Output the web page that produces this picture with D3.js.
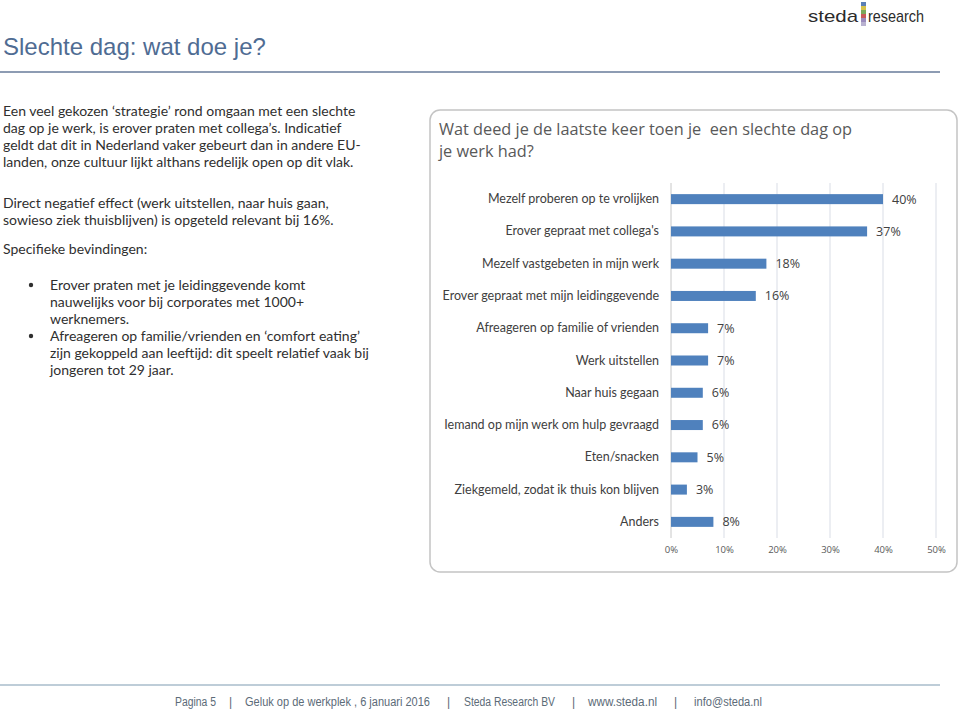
<!DOCTYPE html>
<html><head><meta charset="utf-8">
<script src="https://cdn.jsdelivr.net/npm/d3@7"></script>
<style>body{margin:0;background:#fff}svg{display:block}</style>
</head><body>
<svg id="c" width="960" height="710"></svg>
<script>
const categories = ["Mezelf proberen op te vrolijken","Erover gepraat met collega's","Mezelf vastgebeten in mijn werk","Erover gepraat met mijn leidinggevende","Afreageren op familie of vrienden","Werk uitstellen","Naar huis gegaan","Iemand op mijn werk om hulp gevraagd","Eten/snacken","Ziekgemeld, zodat ik thuis kon blijven","Anders"];
const values = [40,37,18,16,7,7,6,6,5,3,8];
const tickValues = [0,10,20,30,40,50];
const pageTitle = "Slechte dag: wat doe je?";
const chartTitle = ["Wat deed je de laatste keer toen je  een slechte dag op","je werk had?"];
const para1 = ["Een veel gekozen ‘strategie’ rond omgaan met een slechte","dag op je werk, is erover praten met collega’s. Indicatief","geldt dat dit in Nederland vaker gebeurt dan in andere EU-","landen, onze cultuur lijkt althans redelijk open op dit vlak."];
const para2 = ["Direct negatief effect (werk uitstellen, naar huis gaan,","sowieso ziek thuisblijven) is opgeteld relevant bij 16%."];
const para3 = "Specifieke bevindingen:";
const bullets = [["Erover praten met je leidinggevende komt","nauwelijks voor bij corporates met 1000+","werknemers."],["Afreageren op familie/vrienden en ‘comfort eating’","zijn gekoppeld aan leeftijd: dit speelt relatief vaak bij","jongeren tot 29 jaar."]];
const footer = ["Pagina 5","|","Geluk op de werkplek , 6 januari 2016","|","Steda Research BV","|","www.steda.nl","|","info@steda.nl"];
const footerX = [175,229,245,447,464,572,588,674,694];
const footerW = [41,0,185,0,91,0,69,0,68];

const svg = d3.select("#c");
const bodyFont = "Lato, 'Open Sans', sans-serif";

// page title
svg.append("text").attr("x",3).attr("y",55).text(pageTitle)
  .attr("font-family","'Liberation Sans', Arial, sans-serif").attr("font-size",24).attr("fill","#4f6c93");
svg.append("line").attr("x1",0).attr("x2",940).attr("y1",72).attr("y2",72).attr("stroke","#8d9cb3").attr("stroke-width",2);

// logo
const logo = svg.append("g").attr("font-family","'Liberation Sans', Arial, sans-serif").attr("font-size",17).attr("fill","#2b2b2b");
logo.append("text").attr("x",808).attr("y",22).text("steda").attr("textLength",50).attr("lengthAdjust","spacingAndGlyphs");
logo.append("text").attr("x",868).attr("y",22).text("research").attr("textLength",56).attr("lengthAdjust","spacingAndGlyphs");
const logoColors = ["#5b7fb5","#d6c24a","#7aa85a","#c65a5a","#9b8bbd","#b9b2d0"];
logoColors.forEach((c,i)=>logo.append("rect").attr("x",861).attr("y",2+i*4).attr("width",5).attr("height",4).attr("fill",c));

// left text
const lt = svg.append("g").attr("font-family",bodyFont).attr("font-size",14).attr("fill","#2f2f2f");
para1.forEach((t,i)=>lt.append("text").attr("x",3).attr("y",116+i*17).text(t));
para2.forEach((t,i)=>lt.append("text").attr("x",3).attr("y",208+i*17).text(t));
lt.append("text").attr("x",3).attr("y",254).text(para3);
let by = 290;
bullets.forEach(b=>{
  lt.append("circle").attr("cx",31).attr("cy",by-5).attr("r",2.2).attr("fill","#2f2f2f");
  b.forEach((t,i)=>lt.append("text").attr("x",50).attr("y",by+i*17).text(t));
  by += b.length*17;
});

// chart panel
svg.append("rect").attr("x",430).attr("y",110).attr("width",527).attr("height",462).attr("rx",10)
  .attr("fill","#fff").attr("stroke","#c4c4c4").attr("stroke-width",1.5);
chartTitle.forEach((t,i)=>svg.append("text").attr("x",439).attr("y",135+i*22).text(t)
  .attr("font-family","'Open Sans', sans-serif").attr("font-size",16.3).attr("fill","#595959").attr("xml:space","preserve").style("white-space","pre"));

const x = d3.scaleLinear().domain([0,50]).range([671,936]);
const y = d3.scaleBand().domain(categories).range([183,538]).paddingInner(0.69).paddingOuter(0.345);

const g = svg.append("g");
g.selectAll(".grid").data(tickValues.slice(1)).join("line")
  .attr("x1",d=>x(d)).attr("x2",d=>x(d)).attr("y1",183).attr("y2",538).attr("stroke","#d9dde6").attr("stroke-width",1);
g.append("line").attr("x1",x(0)).attr("x2",x(0)).attr("y1",183).attr("y2",538).attr("stroke","#c8c8c8");

const xAxis = d3.axisBottom(x).tickValues(tickValues).tickFormat(d=>d+"%").tickSize(0).tickPadding(0);
const ax = svg.append("g").attr("transform","translate(0,553)").call(xAxis);
ax.select(".domain").remove();
ax.selectAll("text").attr("font-family","'Open Sans', sans-serif").attr("font-size",9.5).attr("fill","#595959").attr("dy","0");

g.selectAll(".bar").data(values).join("rect")
  .attr("x",x(0)).attr("y",(d,i)=>y(categories[i])).attr("width",d=>x(d)-x(0)).attr("height",y.bandwidth()).attr("fill","#4f81bd");
g.selectAll(".val").data(values).join("text")
  .attr("x",d=>x(d)+9).attr("y",(d,i)=>y(categories[i])+y.bandwidth()/2).attr("dy","0.35em").text(d=>d+"%")
  .attr("font-family","'Open Sans', sans-serif").attr("font-size",12.5).attr("fill","#404040");
const yAxis = d3.axisLeft(y).tickSize(0).tickPadding(12);
const ay = svg.append("g").attr("transform",`translate(${x(0)},0)`).call(yAxis);
ay.select(".domain").remove();
ay.selectAll("text").attr("font-family",bodyFont).attr("font-size",12.5).attr("fill","#404040");

// footer
svg.append("line").attr("x1",0).attr("x2",940).attr("y1",685).attr("y2",685).attr("stroke","#a9bccb").attr("stroke-width",1.5);
footer.forEach((t,i)=>{
  const tx = svg.append("text").attr("x",footerX[i]).attr("y",706).text(t)
    .attr("font-family","'Liberation Sans', sans-serif").attr("font-size",12).attr("fill","#5c6b78");
  if (footerW[i]) tx.attr("textLength",footerW[i]).attr("lengthAdjust","spacingAndGlyphs");
});
</script>
</body></html>
